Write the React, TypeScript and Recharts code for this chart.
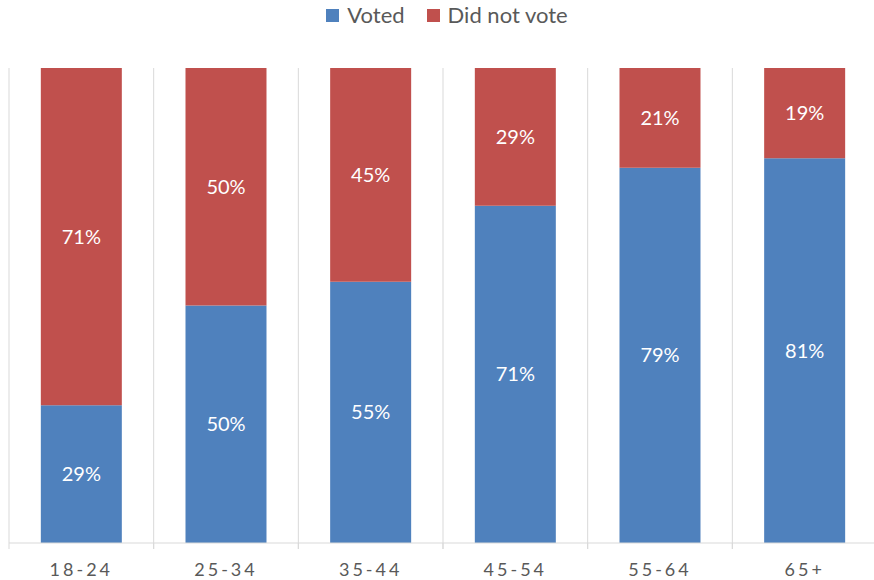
import { BarChart, Bar, XAxis, YAxis, CartesianGrid, LabelList } from 'recharts';

const categories = ['18-24', '25-34', '35-44', '45-54', '55-64', '65+'];
const voted = [29, 50, 55, 71, 79, 81];
const didNotVote = [71, 50, 45, 29, 21, 19];

const BLUE = '#4F81BD';
const RED = '#C0504D';
const GRID = '#D9D9D9';
const FONT = 'Lato, "Open Sans", sans-serif';

const data = categories.map((name, i) => ({
  name,
  voted: voted[i],
  notVoted: didNotVote[i],
}));

const CHART_W = 877;
const MARGIN = { top: 68, right: 0, left: 9, bottom: 0 };
const BAND = (CHART_W - MARGIN.left - MARGIN.right) / categories.length;

const AxisTick = (props: any) => {
  const { x, y, payload } = props;
  return (
    <g>
      <line x1={x - BAND / 2} x2={x - BAND / 2} y1={y} y2={y + 6} stroke={GRID} />
      <line x1={x + BAND / 2} x2={x + BAND / 2} y1={y} y2={y + 6} stroke={GRID} />
      <text
        x={x}
        y={y + 33}
        textAnchor="middle"
        fill="#595959"
        fontSize={18}
        fontFamily={FONT}
        letterSpacing={3}
      >
        {payload.value}
      </text>
    </g>
  );
};

const Legend = () => (
  <div
    style={{
      position: 'absolute',
      top: 2,
      left: 0,
      width: 894,
      display: 'flex',
      justifyContent: 'center',
      alignItems: 'center',
      fontFamily: FONT,
      fontSize: 22,
      color: '#595959',
      gap: 8,
      lineHeight: '26px',
    }}
  >
    <span style={{ width: 13, height: 13, background: BLUE, display: 'inline-block' }} />
    <span style={{ marginRight: 14 }}>Voted</span>
    <span style={{ width: 13, height: 13, background: RED, display: 'inline-block' }} />
    <span>Did not vote</span>
  </div>
);

export default function App() {
  return (
    <div style={{ position: 'absolute', left: 0, top: 0, width: 874, height: 580, overflow: 'hidden', background: '#fff' }}>
      <Legend />
      <BarChart width={CHART_W} height={580} data={data} margin={MARGIN} barCategoryGap="22%">
        <CartesianGrid
          horizontal={false}
          stroke={GRID}
          verticalCoordinatesGenerator={({ offset }: any) =>
            categories.map((_, i) => offset.left + i * BAND).concat([offset.left + categories.length * BAND])
          }
        />
        <XAxis
          dataKey="name"
          height={37}
          axisLine={{ stroke: GRID }}
          tickLine={false}
          tickSize={0}
          tickMargin={0}
          interval={0}
          tick={<AxisTick />}
        />
        <YAxis hide domain={[0, 100]} />
        <Bar dataKey="voted" stackId="a" fill={BLUE} isAnimationActive={false}>
          <LabelList dataKey="voted" position="center" fill="#fff" fontSize={20} fontFamily={FONT} formatter={(v: any) => `${v}%`} />
        </Bar>
        <Bar dataKey="notVoted" stackId="a" fill={RED} isAnimationActive={false}>
          <LabelList dataKey="notVoted" position="center" fill="#fff" fontSize={20} fontFamily={FONT} formatter={(v: any) => `${v}%`} />
        </Bar>
      </BarChart>
    </div>
  );
}
